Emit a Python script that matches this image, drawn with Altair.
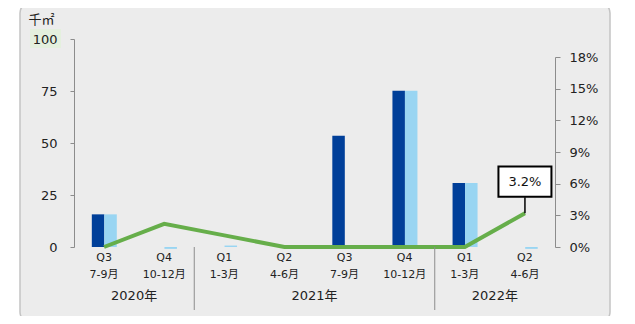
import altair as alt
import pandas as pd

# ---- data ----
quarters = ["Q3", "Q4", "Q1", "Q2", "Q3", "Q4", "Q1", "Q2"]
months = ["7-9月", "10-12月", "1-3月", "4-6月", "7-9月", "10-12月", "1-3月", "4-6月"]
years = ["2020年", "2020年", "2021年", "2021年", "2021年", "2021年", "2022年", "2022年"]
dark_vals = [15.7, 0, 0, 0, 53.5, 75.1, 30.8, 0]          # 千㎡ (dark blue)
light_vals = [15.7, -0.9, 0.7, 0, 0, 75.1, 30.8, -0.9]    # 千㎡ (light blue)
line_pct = [0, 2.2, 1.1, 0, 0, 0, 0, 3.2]                 # % (green line)
year_names = ["2020年", "2021年", "2022年"]
year_anchor_idx = [0, 3, 6]       # band whose right edge is the year's centre
separator_idx = [2, 6]            # bands whose left edge carries a year separator
label_idx = 7
label_text = "3.2%"

cats = [f"c{i}" for i in range(len(quarters))]

df = pd.DataFrame({"cat": cats, "q": quarters, "m": months,
                   "dark": dark_vals, "light": light_vals, "pct": line_pct})
ann = df.iloc[[label_idx]].assign(label=label_text)
yr = pd.DataFrame({"anchor": [cats[i] for i in year_anchor_idx], "year": year_names})
sep = pd.DataFrame({"anchor": [cats[i] for i in separator_idx]})
one = pd.DataFrame({"a": [0]})

FONT = "DejaVu Sans, Noto Sans CJK JP"
DARK = "#003f99"
LIGHT = "#99d5f2"
GREEN = "#66ae4a"
AXIS_GREY = "#8c8c8c"
PANEL = "#ececec"
BORDER = "#c4c4c4"
TXT = "#222222"

xscale = alt.Scale(domain=cats, paddingInner=0, paddingOuter=0)
lyscale = alt.Scale(domain=[0, 100], nice=False, zero=True)
ryscale = alt.Scale(domain=[0, 18], range=[208, 18], nice=False, zero=True)

X = alt.X("cat:N", scale=xscale, axis=None)

# white margins left/right of the grey panel, and its border
strip_l = alt.Chart(one).mark_rect(fill="white").encode(
    x=alt.value(-70), x2=alt.value(-54), y=alt.value(-40), y2=alt.value(290))
strip_r = alt.Chart(one).mark_rect(fill="white").encode(
    x=alt.value(536), x2=alt.value(560), y=alt.value(-40), y2=alt.value(290))
border = alt.Chart(one).mark_rect(
    fill=None, fillOpacity=0, stroke=BORDER, strokeWidth=1.5, cornerRadius=10
).encode(x=alt.value(-54), x2=alt.value(536), y=alt.value(-36), y2=alt.value(283))

hl = alt.Chart(one).mark_rect(fill="#e4f0de").encode(
    x=alt.value(-44), x2=alt.value(-13), y=alt.value(-10), y2=alt.value(9))

xaxis = alt.Axis(
    title=None, labels=False, tickBand="extent", tickSize=4,
    domainColor=AXIS_GREY, tickColor=AXIS_GREY, grid=False, zindex=1,
)
lyaxis = alt.Axis(
    title="千㎡", titleAngle=0, titleAlign="left", titleBaseline="middle",
    titleX=-46, titleY=-20, titleFontSize=13, titleFontWeight="normal", titleColor=TXT,
    values=[0, 25, 50, 75, 100], grid=False, tickSize=4, labelPadding=13,
    labelFontSize=13, labelColor=TXT, domainColor=AXIS_GREY, tickColor=AXIS_GREY,
    zindex=1,
)
ryaxis = alt.Axis(
    orient="right", title=None, values=[0, 3, 6, 9, 12, 15, 18], grid=False,
    labelExpr="datum.value + '%'", tickSize=5, labelPadding=9, labelFontSize=13,
    labelColor=TXT, domainColor=AXIS_GREY, tickColor=AXIS_GREY, zindex=1,
)

bars_dark = alt.Chart(df).mark_bar(size=12.5, xOffset=-6, color=DARK).encode(
    x=alt.X("cat:N", scale=xscale, axis=xaxis),
    y=alt.Y("dark:Q", scale=lyscale, axis=lyaxis),
)
bars_light = alt.Chart(df).mark_bar(size=12.5, xOffset=6.5, color=LIGHT).encode(
    x=X, y=alt.Y("light:Q", scale=lyscale, axis=None),
)
line = alt.Chart(df).mark_line(color=GREEN, strokeWidth=4).encode(
    x=X, y=alt.Y("pct:Q", scale=ryscale, axis=ryaxis),
)
leader = alt.Chart(ann).mark_rule(color="black", strokeWidth=1.5, y2Offset=-16).encode(
    x=X, y=alt.Y("pct:Q", scale=ryscale, axis=None), y2=alt.Y2("pct:Q"),
)
box = alt.Chart(ann).mark_point(
    shape="M-1,-0.57H1V0.57H-1Z", size=2809, filled=True, fill="white",
    stroke="black", strokeWidth=2, opacity=1, yOffset=-31.5,
).encode(x=X, y=alt.Y("pct:Q", scale=ryscale, axis=None))
boxtext = alt.Chart(ann).mark_text(
    font=FONT, fontSize=13, color="#111", baseline="middle", yOffset=-31.5
).encode(x=X, y=alt.Y("pct:Q", scale=ryscale, axis=None), text="label:N")

qtext = alt.Chart(df).mark_text(font=FONT, fontSize=11, color=TXT, baseline="middle").encode(
    x=X, y=alt.value(219), text="q:N")
mtext = alt.Chart(df).mark_text(font=FONT, fontSize=11, color=TXT, baseline="middle").encode(
    x=X, y=alt.value(235.5), text="m:N")

seps = alt.Chart(sep).mark_rule(color=AXIS_GREY, strokeWidth=1).encode(
    x=alt.X("anchor:N", scale=xscale, axis=None, bandPosition=0),
    y=alt.value(208), y2=alt.value(271),
)
yeartext = alt.Chart(yr).mark_text(font=FONT, fontSize=13, color=TXT, baseline="middle").encode(
    x=alt.X("anchor:N", scale=xscale, axis=None, bandPosition=1),
    y=alt.value(257), text="year:N",
)

chart = alt.layer(
    hl, bars_dark, bars_light, line, leader, box, boxtext,
    qtext, mtext, seps, yeartext, strip_l, strip_r, border,
).resolve_scale(y="independent").properties(
    width=481, height=208,
    padding={"left": 66, "top": 31, "right": 72, "bottom": 69},
    autosize=alt.AutoSizeParams(type="none"),
    background=PANEL,
).configure(font=FONT).configure_view(stroke=None).configure_axis(
    labelFont=FONT, titleFont=FONT
)

chart.save("out.html", embed_options={"renderer": "svg", "actions": False})
